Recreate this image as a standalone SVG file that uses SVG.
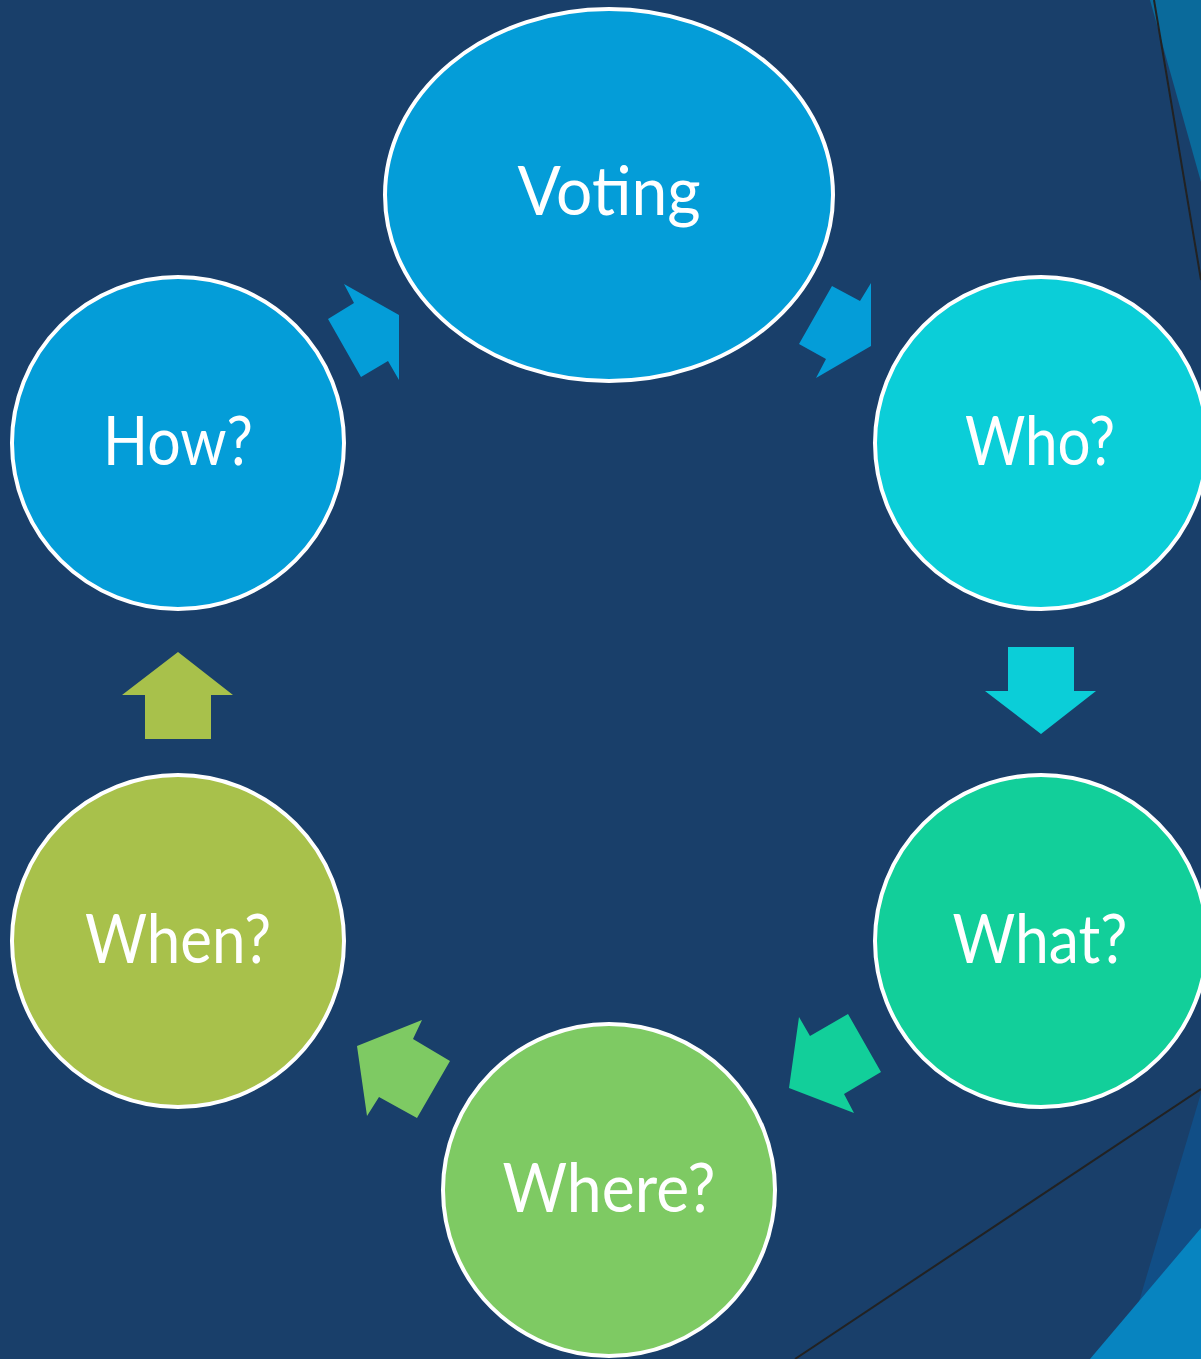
<svg xmlns="http://www.w3.org/2000/svg" width="1201" height="1359" viewBox="0 0 1201 1359">
<style>
.node{stroke:#fff;stroke-width:4}
.lbl{font-family:Lato,"Open Sans",sans-serif;font-size:67px;fill:#fff;text-anchor:middle}
</style>
<rect width="1201" height="1359" fill="#193F6A"/>
<g id="decor">
<polygon points="1150,0 1201,0 1201,182" fill="#0A6A9B"/>
<line x1="1154" y1="0" x2="1201" y2="280" stroke="#222" stroke-width="2"/>
<polygon points="1201,1093 1201,1359 1122,1359" fill="#114E86"/>
<polygon points="1201,1228 1201,1359 1090,1359" fill="#0784C0"/>
<line x1="795" y1="1359" x2="1201" y2="1089" stroke="#222" stroke-width="2"/>
</g>
<g id="connectors">
<polygon points="832,286 860,301 871,283 871,346 816,378 826,359 799,344" fill="#049DD8"/>
<polygon points="1008,647 1074,647 1074,691 1096,691 1041,734 985,691 1008,691" fill="#0BCED8"/>
<polygon points="799,1017 810,1036 848,1014 881,1072 844,1094 854,1113 789,1088" fill="#12CF9A"/>
<polygon points="357,1046 422,1020 413,1039 450,1061 417,1118 379,1097 367,1116" fill="#7ECA63"/>
<polygon points="145,739 211,739 211,695 233,695 178,652 122,695 145,695" fill="#A8C14B"/>
<polygon points="344,284 354,303 328,319 361,377 388,361 399,380 399,315" fill="#049DD8"/>
</g>
<g id="voting"><ellipse class="node" cx="609" cy="195" rx="224" ry="186" fill="#049DD8"/><text class="lbl" x="609" y="215" textLength="183" lengthAdjust="spacingAndGlyphs">Voting</text></g>
<g id="who"><circle class="node" cx="1041" cy="443" r="166" fill="#0BCED8"/><text class="lbl" x="1040" y="465" textLength="150" lengthAdjust="spacingAndGlyphs">Who?</text></g>
<g id="what"><circle class="node" cx="1041" cy="941" r="166" fill="#12CF9A"/><text class="lbl" x="1040" y="963" textLength="175" lengthAdjust="spacingAndGlyphs">What?</text></g>
<g id="where"><circle class="node" cx="609" cy="1190" r="166" fill="#7ECA63"/><text class="lbl" x="609" y="1212" textLength="213" lengthAdjust="spacingAndGlyphs">Where?</text></g>
<g id="when"><circle class="node" cx="178" cy="941" r="166" fill="#A8C14B"/><text class="lbl" x="178" y="963" textLength="186" lengthAdjust="spacingAndGlyphs">When?</text></g>
<g id="how"><circle class="node" cx="178" cy="443" r="166" fill="#049DD8"/><text class="lbl" x="178" y="465" textLength="150" lengthAdjust="spacingAndGlyphs">How?</text></g>
</svg>
